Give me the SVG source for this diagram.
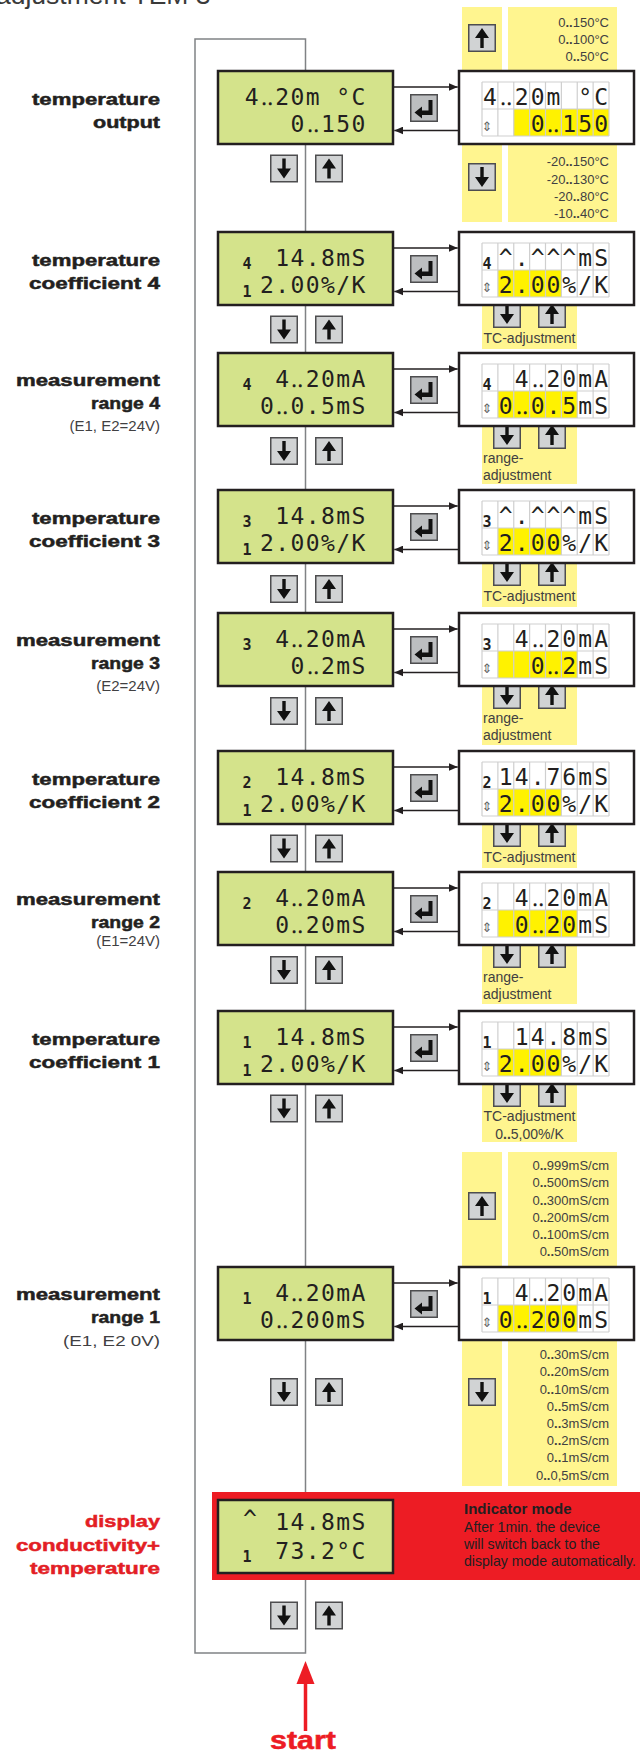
<svg xmlns="http://www.w3.org/2000/svg" width="640" height="1751" viewBox="0 0 640 1751">
<style>
.lcd{font-family:"DejaVu Sans Mono",monospace;font-size:23px;fill:#231f20;text-anchor:middle}
.sm{font-family:"DejaVu Sans Mono",monospace;font-size:15px;font-weight:bold;fill:#231f20;text-anchor:middle}
.ud{font-family:"DejaVu Sans",sans-serif;font-size:13px;fill:#666;text-anchor:middle}
.lbl{font-family:"Liberation Sans",Arial,sans-serif;font-weight:bold;font-size:17px;fill:#231f20;stroke:#231f20;stroke-width:0.5;text-anchor:end}
.sub{font-family:"Liberation Sans",Arial,sans-serif;font-size:15px;fill:#414042;text-anchor:end}
.red{fill:#e31e25;stroke:#e31e25}
.opt{font-family:"Liberation Sans",Arial,sans-serif;font-size:13px;fill:#414042;text-anchor:end}
.tab{font-family:"Liberation Sans",Arial,sans-serif;font-size:14px;fill:#414042}
.gbox{fill:#d4e38b;stroke:#231f20;stroke-width:2.5}
.rbox{fill:#fff;stroke:#231f20;stroke-width:2.5}
.yel{fill:#fff58f}
.hl{fill:#fff200}
.con{stroke:#231f20;stroke-width:1.3;fill:none}
.loop{stroke:#808285;stroke-width:1.5;fill:none}
.ind{font-family:"Liberation Sans",Arial,sans-serif;font-size:15px;fill:#231f20}
</style>
<defs>
<marker id="ah" viewBox="0 0 9 8" refX="9" refY="4" markerWidth="9" markerHeight="8" markerUnits="userSpaceOnUse" orient="auto"><path d="M0,0 L9,4 L0,8 Z" fill="#231f20"/></marker>
<g id="btn"><rect x="0.75" y="0.75" width="26.5" height="26.5" fill="#d1d3d4" stroke="#4d4d4f" stroke-width="1.5"/></g>
<g id="bd"><use href="#btn"/><path d="M12.3,4 H15.7 V14 H21 L14,24 L7,14 H12.3 Z" fill="#111"/></g>
<g id="bu"><use href="#btn"/><path d="M14,4 L21,14 H15.7 V24 H12.3 V14 H7 Z" fill="#111"/></g>
<g id="be"><rect x="0.75" y="0.75" width="26.5" height="26.5" fill="#bcbec0" stroke="#4d4d4f" stroke-width="1.5"/><path d="M18.5,6 H22.5 V21 H12 V24.5 L4.5,18.5 L12,12.5 V16.5 H18.5 Z" fill="#111"/></g>
<path id="grid" d="M0,0 H127 M0,27 H127 M0,54 H127 M0,0 V54 M15.875,0 V54 M31.75,0 V54 M47.625,0 V54 M63.5,0 V54 M79.375,0 V54 M95.25,0 V54 M111.125,0 V54 M127,0 V54" stroke="#cfcfcf" stroke-width="1.2" fill="none"/>
</defs>

<rect width="640" height="1751" fill="#fff"/>
<text x="-4" y="4" font-family="Liberation Sans, Arial, sans-serif" font-size="26.5" fill="#3a3a3a">adjustment TEM 3</text>

<g id="connectors">
<path class="loop" d="M305.5,1653 H195 V39 H305.5 Z"/>
<path class="con" d="M394,87 H457.7" marker-end="url(#ah)"/><path class="con" d="M458,130.5 H394.3" marker-end="url(#ah)"/>
<path class="con" d="M394,248 H457.7" marker-end="url(#ah)"/><path class="con" d="M458,291.5 H394.3" marker-end="url(#ah)"/>
<path class="con" d="M394,369 H457.7" marker-end="url(#ah)"/><path class="con" d="M458,412.5 H394.3" marker-end="url(#ah)"/>
<path class="con" d="M394,506 H457.7" marker-end="url(#ah)"/><path class="con" d="M458,549.5 H394.3" marker-end="url(#ah)"/>
<path class="con" d="M394,629 H457.7" marker-end="url(#ah)"/><path class="con" d="M458,672.5 H394.3" marker-end="url(#ah)"/>
<path class="con" d="M394,767 H457.7" marker-end="url(#ah)"/><path class="con" d="M458,810.5 H394.3" marker-end="url(#ah)"/>
<path class="con" d="M394,888 H457.7" marker-end="url(#ah)"/><path class="con" d="M458,931.5 H394.3" marker-end="url(#ah)"/>
<path class="con" d="M394,1027 H457.7" marker-end="url(#ah)"/><path class="con" d="M458,1070.5 H394.3" marker-end="url(#ah)"/>
<path class="con" d="M394,1283 H457.7" marker-end="url(#ah)"/><path class="con" d="M458,1326.5 H394.3" marker-end="url(#ah)"/>
<path d="M305.5,1731 V1680" stroke="#ed1c24" stroke-width="3.5" fill="none"/>
<path d="M305.5,1661 L314.5,1684 H296.5 Z" fill="#ed1c24"/>
</g>

<!-- Row 1: temperature output -->
<g id="temperature-output">
<rect class="yel" x="462" y="7" width="40" height="215"/>
<rect class="yel" x="508" y="7" width="109" height="215"/>
<use href="#bu" x="468" y="24"/>
<use href="#bd" x="468" y="163"/>
<text class="opt" x="609" y="26.5">0<tspan font-weight="bold">..</tspan>150°C</text>
<text class="opt" x="609" y="44">0<tspan font-weight="bold">..</tspan>100°C</text>
<text class="opt" x="609" y="61">0<tspan font-weight="bold">..</tspan>50°C</text>
<text class="opt" x="609" y="166">-20<tspan font-weight="bold">..</tspan>150°C</text>
<text class="opt" x="609" y="183.5">-20<tspan font-weight="bold">..</tspan>130°C</text>
<text class="opt" x="609" y="201">-20<tspan font-weight="bold">..</tspan>80°C</text>
<text class="opt" x="609" y="218">-10<tspan font-weight="bold">..</tspan>40°C</text>
<rect class="gbox" x="218" y="71" width="175" height="73"/>
<text class="lcd" x="251.6 266.9 282.1 297.4 312.6 343.1 358.4" y="104.5">4‥20m°C</text>
<text class="lcd" x="297.4 312.6 327.9 343.1 358.4" y="132">0‥150</text>
<rect class="rbox" x="459" y="71" width="175" height="73"/>
<rect class="hl" x="513.75" y="109" width="95.25" height="27"/>
<use href="#grid" x="482" y="82"/>
<text class="lcd" x="489.9 505.8 521.7 537.6 553.4 585.2 601.1" y="105">4‥20m°C</text>
<text class="ud" x="487" y="131">⇕</text>
<text class="lcd" x="537.6 553.4 569.3 585.2 601.1" y="132">0‥150</text>
<use href="#be" x="410" y="94"/>
<use href="#bd" x="270" y="154.5"/>
<use href="#bu" x="315" y="154.5"/>
<text class="lbl" x="160" y="105" textLength="128" lengthAdjust="spacingAndGlyphs">temperature</text>
<text class="lbl" x="160" y="127.5" textLength="67" lengthAdjust="spacingAndGlyphs">output</text>
</g>

<!-- Row 2: TC4 -->
<g id="temperature-coefficient-4">
<rect class="yel" x="482" y="301" width="95" height="48"/>
<use href="#bd" x="493" y="300"/>
<use href="#bu" x="538" y="300"/>
<text class="tab" x="529.5" y="343" text-anchor="middle" textLength="92" lengthAdjust="spacingAndGlyphs">TC-adjustment</text>
<rect class="gbox" x="218" y="232" width="175" height="73"/>
<text class="sm" x="247" y="268.5">4</text>
<text class="lcd" x="282.1 297.4 312.6 327.9 343.1 358.4" y="265.5">14.8mS</text>
<text class="sm" x="247" y="297">1</text>
<text class="lcd" x="266.9 282.1 297.4 312.6 327.9 343.1 358.4" y="293">2.00%/K</text>
<rect class="rbox" x="459" y="232" width="175" height="73"/>
<rect class="hl" x="497.9" y="270" width="63.5" height="27"/>
<use href="#grid" x="482" y="243"/>
<text class="sm" x="487" y="269">4</text>
<text class="lcd" x="505.8 521.7 537.6 553.4 569.3 585.2 601.1" y="266">^.^^^mS</text>
<text class="ud" x="487" y="292">⇕</text>
<text class="lcd" x="505.8 521.7 537.6 553.4 569.3 585.2 601.1" y="293">2.00%/K</text>
<use href="#be" x="410" y="255"/>
<use href="#bd" x="270" y="315.5"/>
<use href="#bu" x="315" y="315.5"/>
<text class="lbl" x="160" y="266" textLength="128" lengthAdjust="spacingAndGlyphs">temperature</text>
<text class="lbl" x="160" y="288.5" textLength="131" lengthAdjust="spacingAndGlyphs">coefficient 4</text>
</g>

<!-- Row 3: MR4 -->
<g id="measurement-range-4">
<rect class="yel" x="482" y="422" width="95" height="62"/>
<use href="#bd" x="493" y="421"/>
<use href="#bu" x="538" y="421"/>
<text class="tab" x="483" y="463">range-</text>
<text class="tab" x="483" y="479.5">adjustment</text>
<rect class="gbox" x="218" y="353" width="175" height="73"/>
<text class="sm" x="247" y="389.5">4</text>
<text class="lcd" x="282.1 297.4 312.6 327.9 343.1 358.4" y="386.5">4‥20mA</text>
<text class="lcd" x="266.9 282.1 297.4 312.6 327.9 343.1 358.4" y="414">0‥0.5mS</text>
<rect class="rbox" x="459" y="353" width="175" height="73"/>
<rect class="hl" x="497.9" y="391" width="79.4" height="27"/>
<use href="#grid" x="482" y="364"/>
<text class="sm" x="487" y="390">4</text>
<text class="lcd" x="521.7 537.6 553.4 569.3 585.2 601.1" y="387">4‥20mA</text>
<text class="ud" x="487" y="413">⇕</text>
<text class="lcd" x="505.8 521.7 537.6 553.4 569.3 585.2 601.1" y="414">0‥0.5mS</text>
<use href="#be" x="410" y="376"/>
<use href="#bd" x="270" y="437"/>
<use href="#bu" x="315" y="437"/>
<text class="lbl" x="160" y="386" textLength="144" lengthAdjust="spacingAndGlyphs">measurement</text>
<text class="lbl" x="160" y="408.5" textLength="69" lengthAdjust="spacingAndGlyphs">range 4</text>
<text class="sub" x="160" y="431">(E1, E2=24V)</text>
</g>

<!-- Row 4: TC3 -->
<g id="temperature-coefficient-3">
<rect class="yel" x="482" y="559" width="95" height="48"/>
<use href="#bd" x="493" y="558"/>
<use href="#bu" x="538" y="558"/>
<text class="tab" x="529.5" y="601" text-anchor="middle" textLength="92" lengthAdjust="spacingAndGlyphs">TC-adjustment</text>
<rect class="gbox" x="218" y="490" width="175" height="73"/>
<text class="sm" x="247" y="526.5">3</text>
<text class="lcd" x="282.1 297.4 312.6 327.9 343.1 358.4" y="523.5">14.8mS</text>
<text class="sm" x="247" y="555">1</text>
<text class="lcd" x="266.9 282.1 297.4 312.6 327.9 343.1 358.4" y="551">2.00%/K</text>
<rect class="rbox" x="459" y="490" width="175" height="73"/>
<rect class="hl" x="497.9" y="528" width="63.5" height="27"/>
<use href="#grid" x="482" y="501"/>
<text class="sm" x="487" y="527">3</text>
<text class="lcd" x="505.8 521.7 537.6 553.4 569.3 585.2 601.1" y="524">^.^^^mS</text>
<text class="ud" x="487" y="550">⇕</text>
<text class="lcd" x="505.8 521.7 537.6 553.4 569.3 585.2 601.1" y="551">2.00%/K</text>
<use href="#be" x="410" y="513"/>
<use href="#bd" x="270" y="575"/>
<use href="#bu" x="315" y="575"/>
<text class="lbl" x="160" y="524" textLength="128" lengthAdjust="spacingAndGlyphs">temperature</text>
<text class="lbl" x="160" y="546.5" textLength="131" lengthAdjust="spacingAndGlyphs">coefficient 3</text>
</g>

<!-- Row 5: MR3 -->
<g id="measurement-range-3">
<rect class="yel" x="482" y="682" width="95" height="63"/>
<use href="#bd" x="493" y="681"/>
<use href="#bu" x="538" y="681"/>
<text class="tab" x="483" y="723">range-</text>
<text class="tab" x="483" y="739.5">adjustment</text>
<rect class="gbox" x="218" y="613" width="175" height="73"/>
<text class="sm" x="247" y="649.5">3</text>
<text class="lcd" x="282.1 297.4 312.6 327.9 343.1 358.4" y="646.5">4‥20mA</text>
<text class="lcd" x="297.4 312.6 327.9 343.1 358.4" y="674">0‥2mS</text>
<rect class="rbox" x="459" y="613" width="175" height="73"/>
<rect class="hl" x="497.9" y="651" width="79.4" height="27"/>
<use href="#grid" x="482" y="624"/>
<text class="sm" x="487" y="650">3</text>
<text class="lcd" x="521.7 537.6 553.4 569.3 585.2 601.1" y="647">4‥20mA</text>
<text class="ud" x="487" y="673">⇕</text>
<text class="lcd" x="537.6 553.4 569.3 585.2 601.1" y="674">0‥2mS</text>
<use href="#be" x="410" y="636"/>
<use href="#bd" x="270" y="697"/>
<use href="#bu" x="315" y="697"/>
<text class="lbl" x="160" y="646" textLength="144" lengthAdjust="spacingAndGlyphs">measurement</text>
<text class="lbl" x="160" y="668.5" textLength="69" lengthAdjust="spacingAndGlyphs">range 3</text>
<text class="sub" x="160" y="691">(E2=24V)</text>
</g>

<!-- Row 6: TC2 -->
<g id="temperature-coefficient-2">
<rect class="yel" x="482" y="820" width="95" height="48"/>
<use href="#bd" x="493" y="819"/>
<use href="#bu" x="538" y="819"/>
<text class="tab" x="529.5" y="862" text-anchor="middle" textLength="92" lengthAdjust="spacingAndGlyphs">TC-adjustment</text>
<rect class="gbox" x="218" y="751" width="175" height="73"/>
<text class="sm" x="247" y="787.5">2</text>
<text class="lcd" x="282.1 297.4 312.6 327.9 343.1 358.4" y="784.5">14.8mS</text>
<text class="sm" x="247" y="816">1</text>
<text class="lcd" x="266.9 282.1 297.4 312.6 327.9 343.1 358.4" y="812">2.00%/K</text>
<rect class="rbox" x="459" y="751" width="175" height="73"/>
<rect class="hl" x="497.9" y="789" width="63.5" height="27"/>
<use href="#grid" x="482" y="762"/>
<text class="sm" x="487" y="788">2</text>
<text class="lcd" x="505.8 521.7 537.6 553.4 569.3 585.2 601.1" y="785">14.76mS</text>
<text class="ud" x="487" y="811">⇕</text>
<text class="lcd" x="505.8 521.7 537.6 553.4 569.3 585.2 601.1" y="812">2.00%/K</text>
<use href="#be" x="410" y="774"/>
<use href="#bd" x="270" y="834.5"/>
<use href="#bu" x="315" y="834.5"/>
<text class="lbl" x="160" y="785" textLength="128" lengthAdjust="spacingAndGlyphs">temperature</text>
<text class="lbl" x="160" y="807.5" textLength="131" lengthAdjust="spacingAndGlyphs">coefficient 2</text>
</g>

<!-- Row 7: MR2 -->
<g id="measurement-range-2">
<rect class="yel" x="482" y="941" width="95" height="63"/>
<use href="#bd" x="493" y="940"/>
<use href="#bu" x="538" y="940"/>
<text class="tab" x="483" y="982">range-</text>
<text class="tab" x="483" y="998.5">adjustment</text>
<rect class="gbox" x="218" y="872" width="175" height="73"/>
<text class="sm" x="247" y="908.5">2</text>
<text class="lcd" x="282.1 297.4 312.6 327.9 343.1 358.4" y="905.5">4‥20mA</text>
<text class="lcd" x="282.1 297.4 312.6 327.9 343.1 358.4" y="933">0‥20mS</text>
<rect class="rbox" x="459" y="872" width="175" height="73"/>
<rect class="hl" x="497.9" y="910" width="79.4" height="27"/>
<use href="#grid" x="482" y="883"/>
<text class="sm" x="487" y="909">2</text>
<text class="lcd" x="521.7 537.6 553.4 569.3 585.2 601.1" y="906">4‥20mA</text>
<text class="ud" x="487" y="932">⇕</text>
<text class="lcd" x="521.7 537.6 553.4 569.3 585.2 601.1" y="933">0‥20mS</text>
<use href="#be" x="410" y="895"/>
<use href="#bd" x="270" y="956"/>
<use href="#bu" x="315" y="956"/>
<text class="lbl" x="160" y="905" textLength="144" lengthAdjust="spacingAndGlyphs">measurement</text>
<text class="lbl" x="160" y="927.5" textLength="69" lengthAdjust="spacingAndGlyphs">range 2</text>
<text class="sub" x="160" y="946" font-size="11">(E1=24V)</text>
</g>

<!-- Row 8: TC1 -->
<g id="temperature-coefficient-1">
<rect class="yel" x="482" y="1080" width="95" height="62"/>
<use href="#bd" x="493" y="1079"/>
<use href="#bu" x="538" y="1079"/>
<text class="tab" x="529.5" y="1121" text-anchor="middle" textLength="92" lengthAdjust="spacingAndGlyphs">TC-adjustment</text>
<text class="tab" x="529.5" y="1138.5" text-anchor="middle">0<tspan font-weight="bold">..</tspan>5,00%/K</text>
<rect class="gbox" x="218" y="1011" width="175" height="73"/>
<text class="sm" x="247" y="1047.5">1</text>
<text class="lcd" x="282.1 297.4 312.6 327.9 343.1 358.4" y="1044.5">14.8mS</text>
<text class="sm" x="247" y="1076">1</text>
<text class="lcd" x="266.9 282.1 297.4 312.6 327.9 343.1 358.4" y="1072">2.00%/K</text>
<rect class="rbox" x="459" y="1011" width="175" height="73"/>
<rect class="hl" x="497.9" y="1049" width="63.5" height="27"/>
<use href="#grid" x="482" y="1022"/>
<text class="sm" x="487" y="1048">1</text>
<text class="lcd" x="521.7 537.6 553.4 569.3 585.2 601.1" y="1045">14.8mS</text>
<text class="ud" x="487" y="1071">⇕</text>
<text class="lcd" x="505.8 521.7 537.6 553.4 569.3 585.2 601.1" y="1072">2.00%/K</text>
<use href="#be" x="410" y="1034"/>
<use href="#bd" x="270" y="1094.5"/>
<use href="#bu" x="315" y="1094.5"/>
<text class="lbl" x="160" y="1045" textLength="128" lengthAdjust="spacingAndGlyphs">temperature</text>
<text class="lbl" x="160" y="1067.5" textLength="131" lengthAdjust="spacingAndGlyphs">coefficient 1</text>
</g>

<!-- Row 9: MR1 -->
<g id="measurement-range-1">
<rect class="yel" x="462" y="1152" width="40" height="334"/>
<rect class="yel" x="508" y="1152" width="109" height="334"/>
<use href="#bu" x="468" y="1192"/>
<use href="#bd" x="468" y="1378"/>
<text class="opt" x="609" y="1170">0<tspan font-weight="bold">..</tspan>999mS/cm</text>
<text class="opt" x="609" y="1187">0<tspan font-weight="bold">..</tspan>500mS/cm</text>
<text class="opt" x="609" y="1204.5">0<tspan font-weight="bold">..</tspan>300mS/cm</text>
<text class="opt" x="609" y="1222">0<tspan font-weight="bold">..</tspan>200mS/cm</text>
<text class="opt" x="609" y="1239">0<tspan font-weight="bold">..</tspan>100mS/cm</text>
<text class="opt" x="609" y="1256">0<tspan font-weight="bold">..</tspan>50mS/cm</text>
<text class="opt" x="609" y="1359">0<tspan font-weight="bold">..</tspan>30mS/cm</text>
<text class="opt" x="609" y="1376">0<tspan font-weight="bold">..</tspan>20mS/cm</text>
<text class="opt" x="609" y="1393.5">0<tspan font-weight="bold">..</tspan>10mS/cm</text>
<text class="opt" x="609" y="1410.5">0<tspan font-weight="bold">..</tspan>5mS/cm</text>
<text class="opt" x="609" y="1428">0<tspan font-weight="bold">..</tspan>3mS/cm</text>
<text class="opt" x="609" y="1444.5">0<tspan font-weight="bold">..</tspan>2mS/cm</text>
<text class="opt" x="609" y="1462">0<tspan font-weight="bold">..</tspan>1mS/cm</text>
<text class="opt" x="609" y="1479.5">0<tspan font-weight="bold">..</tspan>0,5mS/cm</text>
<rect class="gbox" x="218" y="1267" width="175" height="73"/>
<text class="sm" x="247" y="1303.5">1</text>
<text class="lcd" x="282.1 297.4 312.6 327.9 343.1 358.4" y="1300.5">4‥20mA</text>
<text class="lcd" x="266.9 282.1 297.4 312.6 327.9 343.1 358.4" y="1328">0‥200mS</text>
<rect class="rbox" x="459" y="1267" width="175" height="73"/>
<rect class="hl" x="497.9" y="1305" width="79.4" height="27"/>
<use href="#grid" x="482" y="1278"/>
<text class="sm" x="487" y="1304">1</text>
<text class="lcd" x="521.7 537.6 553.4 569.3 585.2 601.1" y="1301">4‥20mA</text>
<text class="ud" x="487" y="1327">⇕</text>
<text class="lcd" x="505.8 521.7 537.6 553.4 569.3 585.2 601.1" y="1328">0‥200mS</text>
<use href="#be" x="410" y="1290"/>
<use href="#bd" x="270" y="1378"/>
<use href="#bu" x="315" y="1378"/>
<text class="lbl" x="160" y="1300" textLength="144" lengthAdjust="spacingAndGlyphs">measurement</text>
<text class="lbl" x="160" y="1322.5" textLength="69" lengthAdjust="spacingAndGlyphs">range 1</text>
<text class="sub" x="160" y="1346" font-size="17" textLength="97" lengthAdjust="spacingAndGlyphs">(E1, E2 0V)</text>
</g>

<!-- Display mode -->
<g id="display-mode">
<rect x="212" y="1492" width="428" height="88" fill="#ed1c24"/>
<rect class="gbox" x="218" y="1500" width="175" height="73"/>
<text class="lcd" x="250" y="1527" font-size="20">^</text>
<text class="lcd" x="282.1 297.4 312.6 327.9 343.1 358.4" y="1530">14.8mS</text>
<text class="sm" x="247" y="1562">1</text>
<text class="lcd" x="282.1 297.4 312.6 327.9 343.1 358.4" y="1559">73.2°C</text>
<text class="ind" x="464" y="1514" font-weight="bold" font-size="15.5">Indicator mode</text>
<text class="ind" x="464" y="1531.5" textLength="136" lengthAdjust="spacingAndGlyphs">After 1min. the device</text>
<text class="ind" x="464" y="1549" textLength="136" lengthAdjust="spacingAndGlyphs">will switch back to the</text>
<text class="ind" x="464" y="1566" textLength="172" lengthAdjust="spacingAndGlyphs">display mode automatically.</text>
<use href="#bd" x="270" y="1601.5"/>
<use href="#bu" x="315" y="1601.5"/>
<text class="lbl red" x="160" y="1527" font-size="18" textLength="75" lengthAdjust="spacingAndGlyphs">display</text>
<text class="lbl red" x="160" y="1551" font-size="18" textLength="144" lengthAdjust="spacingAndGlyphs">conductivity+</text>
<text class="lbl red" x="160" y="1574" font-size="18" textLength="130" lengthAdjust="spacingAndGlyphs">temperature</text>
</g>

<g id="start">
<text x="303" y="1749" font-family="Liberation Sans, Arial, sans-serif" font-weight="bold" font-size="26" fill="#ed1c24" stroke="#ed1c24" stroke-width="0.5" text-anchor="middle" textLength="66" lengthAdjust="spacingAndGlyphs">start</text>
</g>
</svg>
